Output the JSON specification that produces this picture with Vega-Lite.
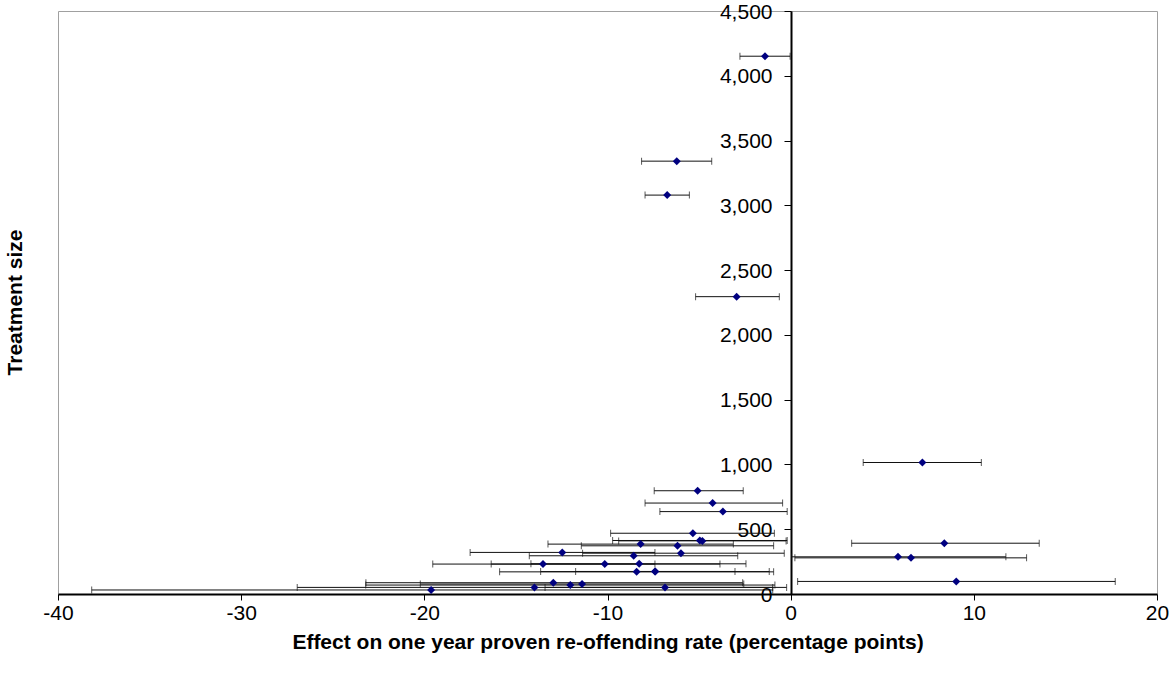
{
  "$schema": "https://vega.github.io/schema/vega-lite/v6.json",
  "width": 1099,
  "height": 583,
  "autosize": {"type": "none"},
  "padding": {"left": 58, "top": 11, "right": 15, "bottom": 81},
  "background": "white",
  "config": {
    "font": "Liberation Sans",
    "view": {"stroke": "#a0a0a0", "strokeWidth": 1},
    "axisX": {
      "grid": false, "domainColor": "#000", "domainWidth": 2, "tickColor": "#000", "tickSize": 6, "tickWidth": 1,
      "labelFontSize": 21, "labelColor": "#000", "labelPadding": 2, "labelFlush": false, "titleFontSize": 21, "titleFontWeight": "bold",
      "titleColor": "#000", "titlePadding": 8
    },
    "axisY": {
      "grid": false, "domainColor": "#000", "domainWidth": 2, "tickColor": "#000", "tickSize": 7, "tickWidth": 1,
      "labelFontSize": 21, "labelColor": "#000", "labelPadding": 12, "labelFlush": false, "labelOffset": 1, "titleFontSize": 21, "titleFontWeight": "bold",
      "titleColor": "#000", "offset": -733, "titleX": -766, "titleY": 291
    }
  },
  "data": {"values": [
    {"effect": -1.40, "size": 4151, "lo": -2.77, "hi": -0.03},
    {"effect": -6.22, "size": 3341, "lo": -8.14, "hi": -4.31},
    {"effect": -6.74, "size": 3079, "lo": -7.95, "hi": -5.53},
    {"effect": -2.95, "size": 2295, "lo": -5.19, "hi": -0.62},
    {"effect": 7.19, "size": 1015, "lo": 3.96, "hi": 10.41},
    {"effect": -5.08, "size": 797, "lo": -7.45, "hi": -2.59},
    {"effect": -4.26, "size": 702, "lo": -7.95, "hi": -0.44},
    {"effect": -3.70, "size": 636, "lo": -7.14, "hi": -0.19},
    {"effect": -5.34, "size": 469, "lo": -9.83, "hi": -0.89},
    {"effect": -4.96, "size": 413, "lo": -9.72, "hi": -0.19},
    {"effect": -4.82, "size": 410, "lo": -9.39, "hi": -0.25},
    {"effect": 8.39, "size": 392, "lo": 3.33, "hi": 13.57},
    {"effect": -8.19, "size": 385, "lo": -13.25, "hi": -3.13},
    {"effect": -6.18, "size": 372, "lo": -11.43, "hi": -0.93},
    {"effect": -12.47, "size": 321, "lo": -17.50, "hi": -7.41},
    {"effect": -5.99, "size": 315, "lo": -11.36, "hi": -0.35},
    {"effect": -8.57, "size": 295, "lo": -14.27, "hi": -2.89},
    {"effect": 5.86, "size": 287, "lo": 0.05, "hi": 11.75},
    {"effect": 6.57, "size": 279, "lo": 0.23, "hi": 12.88},
    {"effect": -8.27, "size": 233, "lo": -14.18, "hi": -2.44},
    {"effect": -13.52, "size": 231, "lo": -19.54, "hi": -7.41},
    {"effect": -10.15, "size": 231, "lo": -16.35, "hi": -3.86},
    {"effect": -7.39, "size": 174, "lo": -11.74, "hi": -3.04},
    {"effect": -7.41, "size": 173, "lo": -13.65, "hi": -1.17},
    {"effect": -8.41, "size": 171, "lo": -15.89, "hi": -0.93},
    {"effect": 9.04, "size": 97, "lo": 0.38, "hi": 17.72},
    {"effect": -12.96, "size": 87, "lo": -23.19, "hi": -2.62},
    {"effect": -11.39, "size": 77, "lo": -20.22, "hi": -2.56},
    {"effect": -12.03, "size": 69, "lo": -23.20, "hi": -0.86},
    {"effect": -13.99, "size": 51, "lo": -26.94, "hi": -0.98},
    {"effect": -6.86, "size": 51, "lo": -13.41, "hi": -0.22},
    {"effect": -19.63, "size": 31, "lo": -38.16, "hi": -0.98}
  ]},
  "encoding": {
    "y": {"field": "size", "type": "quantitative", "title": "Treatment size",
          "scale": {"domain": [0, 4500], "nice": false, "zero": false},
          "axis": {"values": [0, 500, 1000, 1500, 2000, 2500, 3000, 3500, 4000, 4500], "format": ",.0f"}}
  },
  "layer": [
    {
      "mark": {"type": "rule", "color": "#111", "strokeWidth": 1},
      "encoding": {
        "x": {"field": "lo", "type": "quantitative", "title": "Effect on one year proven re-offending rate (percentage points)",
              "scale": {"domain": [-40, 20], "nice": false, "zero": false},
              "axis": {"values": [-40, -30, -20, -10, 0, 10, 20],
                       "labelExpr": "datum.value < 0 ? '-' + abs(datum.value) : '' + datum.value"}},
        "x2": {"field": "hi"}
      }
    },
    {
      "mark": {"type": "tick", "orient": "vertical", "size": 7, "thickness": 1, "color": "#111"},
      "encoding": {"x": {"field": "lo", "type": "quantitative", "title": "Effect on one year proven re-offending rate (percentage points)"}}
    },
    {
      "mark": {"type": "tick", "orient": "vertical", "size": 7, "thickness": 1, "color": "#111"},
      "encoding": {"x": {"field": "hi", "type": "quantitative", "title": "Effect on one year proven re-offending rate (percentage points)"}}
    },
    {
      "mark": {"type": "point", "shape": "diamond", "filled": true, "size": 64, "color": "#000080", "opacity": 1},
      "encoding": {"x": {"field": "effect", "type": "quantitative", "title": "Effect on one year proven re-offending rate (percentage points)"}}
    }
  ]
}
